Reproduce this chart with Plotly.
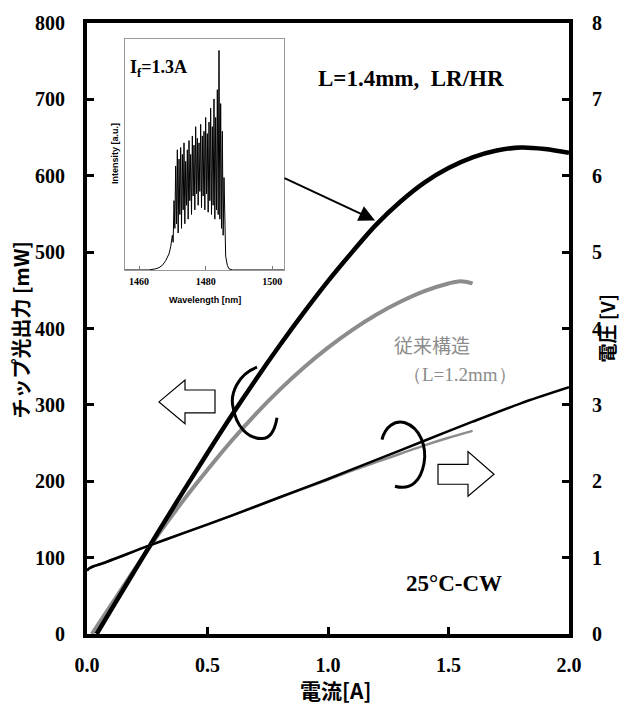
import plotly.graph_objects as go

# ---------------- data ----------------
# Light output (L-I), L=1.4mm LR/HR (black)
current_black_LI = [0.04, 0.10, 0.20, 0.30, 0.40, 0.50, 0.60, 0.70, 0.80, 0.90, 1.00,
                    1.10, 1.20, 1.30, 1.40, 1.50, 1.60, 1.70, 1.80, 1.90, 2.00]
power_black_LI = [0, 31.5, 84, 136, 187, 237, 286, 333, 378, 421, 462,
                  500, 536, 566, 591, 610, 624, 633, 637, 635, 630]

# Light output (L-I), conventional L=1.2mm (gray)
current_gray_LI = [0.02, 0.10, 0.20, 0.30, 0.40, 0.50, 0.60, 0.70, 0.80, 0.90, 1.00,
                   1.10, 1.20, 1.30, 1.40, 1.50, 1.55, 1.60]
power_gray_LI = [0, 38, 86, 132, 175, 215, 253, 288, 320, 349, 375,
                 398, 418, 435, 449, 459, 462, 459]

# Voltage (V-I), black
current_black_V = [0.0, 0.01, 0.03, 0.06, 0.26, 0.40, 0.60, 0.80, 1.00, 1.20, 1.40, 1.60, 1.80, 2.00]
volt_black = [0.83, 0.86, 0.89, 0.92, 1.16, 1.32, 1.55, 1.79, 2.03, 2.28, 2.53, 2.78, 3.02, 3.23]

# Voltage (V-I), gray
current_gray_V = [0.0, 0.01, 0.03, 0.06, 0.26, 0.40, 0.60, 0.80, 1.00, 1.10, 1.20, 1.30, 1.40, 1.50, 1.60]
volt_gray = [0.83, 0.86, 0.89, 0.92, 1.16, 1.32, 1.55, 1.79, 2.02, 2.14, 2.25, 2.36, 2.47, 2.57, 2.66]

# Inset spectrum (If=1.3A)
wavelength = [1455.0, 1463.0, 1465.0, 1466.0, 1467.0, 1468.0, 1469.0, 1469.5, 1470.0,
              1470.25, 1470.5, 1470.75, 1471.0, 1471.25, 1471.5, 1471.75, 1472.0,
              1472.25, 1472.5, 1472.75, 1473.0, 1473.25, 1473.5, 1473.75, 1474.0,
              1474.25, 1474.5, 1474.75, 1475.0, 1475.25, 1475.5, 1475.75, 1476.0,
              1476.25, 1476.5, 1476.75, 1477.0, 1477.25, 1477.5, 1477.75, 1478.0,
              1478.25, 1478.5, 1478.75, 1479.0, 1479.25, 1479.5, 1479.75, 1480.0,
              1480.25, 1480.5, 1480.75, 1481.0, 1481.25, 1481.5, 1481.75, 1482.0,
              1482.25, 1482.5, 1482.75, 1483.0, 1483.25, 1483.5, 1483.75, 1484.0,
              1484.25, 1484.5, 1484.75, 1485.0, 1485.25, 1485.5, 1485.75, 1486.0,
              1486.5, 1487.0, 1488.0, 1504.0]
intensity = [0.0, 0.0, 0.005, 0.01, 0.02, 0.04, 0.07, 0.10, 0.15,
             0.12, 0.30, 0.18, 0.45, 0.20, 0.52, 0.16, 0.48,
             0.24, 0.53, 0.18, 0.50, 0.26, 0.55, 0.20, 0.47,
             0.28, 0.52, 0.22, 0.56, 0.30, 0.50, 0.24, 0.58,
             0.32, 0.54, 0.26, 0.62, 0.33, 0.57, 0.28, 0.55,
             0.34, 0.63, 0.27, 0.58, 0.32, 0.60, 0.26, 0.66,
             0.33, 0.59, 0.25, 0.64, 0.30, 0.70, 0.24, 0.62,
             0.28, 0.74, 0.22, 0.66, 0.26, 0.78, 0.24, 0.95,
             0.22, 0.72, 0.18, 0.60, 0.15, 0.40, 0.10, 0.06,
             0.02, 0.005, 0.0, 0.0]

x_ticks = [0.0, 0.5, 1.0, 1.5, 2.0]
y_ticks = [0, 100, 200, 300, 400, 500, 600, 700, 800]
y2_ticks = [0, 1, 2, 3, 4, 5, 6, 7, 8]
inset_ticks = [1460, 1480, 1500]

# ---------------- layout helpers ----------------
W, H = 620, 706
L_PX, R_PX, T_PX, B_PX = 87, 569, 18, 634


def pp(x, y):
    """pixel -> paper fraction"""
    return (x - L_PX) / (R_PX - L_PX), (B_PX - y) / (B_PX - T_PX)


def path(points, close=False):
    s = ""
    for i, (x, y) in enumerate(points):
        fx, fy = pp(x, y)
        s += ("M" if i == 0 else "L") + f"{fx:.5f},{fy:.5f} "
    if close:
        s += "Z"
    return s


def cpath(start, curves):
    fx, fy = pp(*start)
    s = f"M{fx:.5f},{fy:.5f} "
    for c in curves:
        pts = [pp(*p) for p in c]
        s += "C" + " ".join(f"{a:.5f},{b:.5f}" for a, b in pts) + " "
    return s


SERIF = "Liberation Serif, Times New Roman, serif"
CJK = "Noto Sans CJK JP, sans-serif"
SANS = "Liberation Sans, Arial, sans-serif"

fig = go.Figure()

fig.add_trace(go.Scatter(x=current_gray_V, y=volt_gray, yaxis="y2", mode="lines",
                         line=dict(color="#8c8c8c", width=2.5, shape="spline", smoothing=0.8),
                         showlegend=False, hoverinfo="skip"))
fig.add_trace(go.Scatter(x=current_black_V, y=volt_black, yaxis="y2", mode="lines",
                         line=dict(color="black", width=2.5, shape="spline", smoothing=0.8),
                         showlegend=False, hoverinfo="skip"))
fig.add_trace(go.Scatter(x=current_gray_LI, y=power_gray_LI, mode="lines",
                         line=dict(color="#8c8c8c", width=4, shape="spline", smoothing=1.0),
                         showlegend=False, hoverinfo="skip"))
fig.add_trace(go.Scatter(x=current_black_LI, y=power_black_LI, mode="lines",
                         line=dict(color="black", width=4.5, shape="spline", smoothing=1.0),
                         showlegend=False, hoverinfo="skip"))
fig.add_trace(go.Scatter(x=wavelength, y=intensity, xaxis="x2", yaxis="y3", mode="lines",
                         line=dict(color="black", width=1), showlegend=False, hoverinfo="skip"))

ix0, iy0 = pp(125, 267)
ix1, iy1 = pp(284, 34)

tickfont = dict(family=SERIF, size=20, color="black", weight="bold")

fig.update_layout(
    width=W, height=H, autosize=False,
    margin=dict(l=L_PX, r=W - R_PX, t=T_PX, b=H - B_PX),
    paper_bgcolor="white", plot_bgcolor="white",
    xaxis=dict(range=[0, 2], tickvals=x_ticks, ticktext=[f"{v:.1f}" for v in x_ticks],
               ticks="inside", ticklen=7, tickwidth=3, tickcolor="black",
               showline=True, linewidth=4, linecolor="black", mirror=True,
               showgrid=False, zeroline=False, tickfont=tickfont, ticklabelstandoff=10),
    yaxis=dict(range=[0, 800], tickvals=y_ticks, ticks="inside", ticklen=7, tickwidth=3,
               tickcolor="black", showline=True, linewidth=4, linecolor="black", mirror=False,
               showgrid=False, zeroline=False, tickfont=tickfont, ticklabelstandoff=14),
    yaxis2=dict(range=[0, 8], tickvals=y2_ticks, overlaying="y", side="right", anchor="x",
                ticks="inside", ticklen=7, tickwidth=3, tickcolor="black",
                showline=True, linewidth=4, linecolor="black",
                showgrid=False, zeroline=False, tickfont=tickfont, ticklabelstandoff=15),
    xaxis2=dict(domain=[ix0, ix1], anchor="y3", range=[1455.8, 1503.5], tickvals=inset_ticks,
                ticks="inside", ticklen=4, tickwidth=1, tickcolor="#777",
                showline=True, linewidth=1, linecolor="#999", mirror=True,
                showgrid=False, zeroline=False,
                tickfont=dict(family=SERIF, size=10, color="black", weight="bold"),
                ticklabelstandoff=2),
    yaxis3=dict(domain=[iy0, iy1], anchor="x2", range=[0, 1.0], showticklabels=False,
                ticks="", showline=True, linewidth=1, linecolor="#999", mirror=True,
                showgrid=False, zeroline=False),
)

ann = []


def text(x, y, s, size, family, color="black", bold=True, angle=0, xanchor="center"):
    fx, fy = pp(x, y)
    ann.append(dict(x=fx, y=fy, xref="paper", yref="paper", text=s, showarrow=False,
                    textangle=angle, xanchor=xanchor, yanchor="middle",
                    font=dict(family=family, size=size, color=color,
                              weight="bold" if bold else "normal")))


text(335, 690, "電流[A]", 21, CJK)
text(20, 328, "チップ光出力 [mW]", 20, CJK, angle=-90)
text(606, 326, "電圧 [V]", 19, CJK, angle=-90)
text(411, 74, "L=1.4mm,  LR/HR", 23, SERIF)
text(454, 583, "25°C-CW", 23, SERIF)
text(432, 342, "従来構造", 19, CJK, color="#8c8c8c", bold=False)
text(460, 372, "（L=1.2mm）", 19, SERIF, color="#8c8c8c", bold=False)
text(128, 64, "I<sub>f</sub>=1.3A", 18, SERIF, xanchor="left")
text(205, 297, "Wavelength [nm]", 9, SANS)
text(115, 150, "Intensity [a.u.]", 9, SANS, angle=-90)

# arrow from inset to the black L-I curve
tip_x = (375 - L_PX) / 241.0
tip_y = (B_PX - 217) / 0.77
ann.append(dict(x=tip_x, y=tip_y, xref="x", yref="y", ax=-92, ay=-43, axref="pixel",
                ayref="pixel", showarrow=True, arrowhead=2, arrowsize=1.6, arrowwidth=2,
                arrowcolor="black", text=""))

fig.update_layout(annotations=ann)

shapes = []
# hollow block arrows
shapes.append(dict(type="path", xref="paper", yref="paper",
                   path=path([(159, 400), (185, 378), (185, 388), (215, 388), (215, 411),
                              (185, 411), (185, 422)], close=True),
                   line=dict(color="black", width=1.2), fillcolor="white"))
shapes.append(dict(type="path", xref="paper", yref="paper",
                   path=path([(438, 463), (468, 463), (468, 450), (494, 473), (468, 495),
                              (468, 483), (438, 483)], close=True),
                   line=dict(color="black", width=1.2), fillcolor="white"))
# brackets
shapes.append(dict(type="path", xref="paper", yref="paper",
                   path=cpath((257, 365), [[(238, 372), (230, 392), (233, 405)],
                                           [(236, 425), (248, 437), (262, 437)],
                                           [(270, 437), (275, 428), (277, 416)]]),
                   line=dict(color="black", width=3)))
shapes.append(dict(type="path", xref="paper", yref="paper",
                   path=cpath((382, 438), [[(385, 425), (395, 418), (405, 421)],
                                           [(420, 426), (427, 445), (424, 462)],
                                           [(421, 478), (412, 490), (395, 485)]]),
                   line=dict(color="black", width=3)))
fig.update_layout(shapes=shapes)

fig.write_html("out.html")
